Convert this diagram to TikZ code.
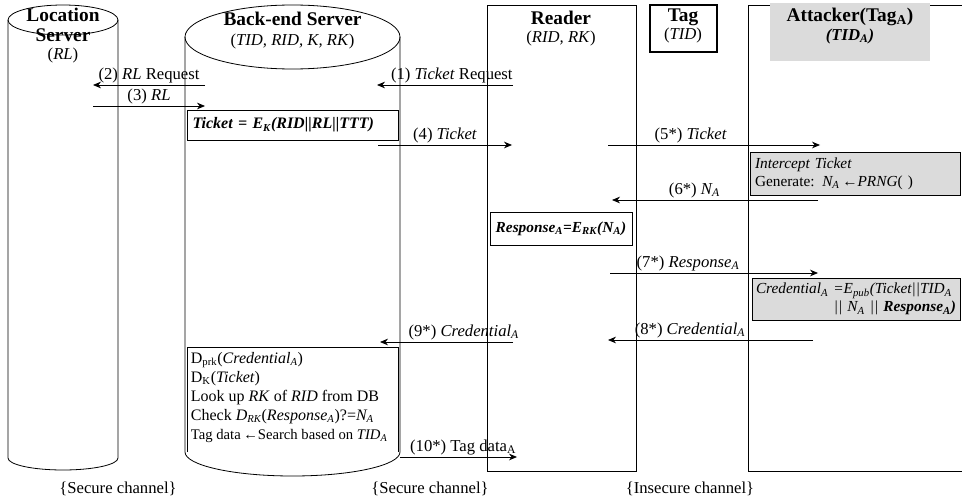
\documentclass[tikz,border=0pt]{standalone}
\usepackage{fontspec}
\setmainfont{Liberation Serif}
\usetikzlibrary{arrows.meta, positioning}
\newcommand{\low}[1]{\textsubscript{#1}}

\begin{document}
\begin{tikzpicture}[x=0.75pt, y=-0.75pt, >={Stealth[length=6pt, width=5pt]},
    wire/.style={line width=0.6pt},
    msg/.style={wire, ->},
    lbl/.style={above, inner sep=1.5pt, font=\fontsize{12.5}{14}\selectfont},
    head/.style={inner sep=0pt, font=\fontsize{14.5}{16}\selectfont\bfseries},
    keys/.style={inner sep=0pt, font=\fontsize{12.5}{14}\selectfont},
    box/.style={draw, wire, inner sep=3pt, font=\fontsize{11.5}{13.5}\selectfont},
    greybox/.style={box, fill=black!14}]
  \useasboundingbox (0,0) rectangle (962,499);

  % Location server (cylinder)
  \draw[wire] (8,20) -- (8,458) arc[start angle=180, end angle=0, x radius=55, y radius=12] -- (118,20);
  \draw[wire] (63,20) ellipse[x radius=55, y radius=15];
  \node[head] (loc) at (63,15) {Location};
  \node[head] (locb) at (63,35) {Server};
  \node[keys] (lockey) at (63,55) {(\textit{RL})};

  % Back-end server (cylinder)
  \draw[wire] (185,37) -- (185,452) arc[start angle=180, end angle=0, x radius=107.5, y radius=24] -- (400,37);
  \draw[wire] (292.5,37) ellipse[x radius=107.5, y radius=32];
  \node[head] (srv) at (292.5,19) {Back-end Server};
  \node[keys] (srvkey) at (292.5,41) {(\textit{TID, RID, K, RK})};

  % Reader, tag and attacker
  \draw[wire] (487,5) rectangle (636,471);
  \node[head] (rdr) at (561,18) {Reader};
  \node[keys] (rdrkey) at (561,38) {(\textit{RID, RK})};

  \draw[line width=2pt] (650,5) rectangle (717,52);
  \node[head] (tag) at (683,17) {Tag};
  \node[keys] (tagkey) at (683,35) {(\textit{TID})};

  \draw[wire] (962,5) -- (748,5) -- (748,471) -- (962,471);
  \node[fill=black!14, minimum width=120pt, minimum height=43pt] (atkbg) at (850,32) {};
  \node[head] (atk) at (850,17) {Attacker(Tag\low{A})};
  \node[keys, font=\fontsize{12.5}{14}\selectfont\bfseries\itshape] (atkkey) at (850,36) {(TID\low{A})};

  % Steps (1)-(4)
  \coordinate (r1) at (513,85);   \coordinate (s1) at (377,85);
  \draw[msg] (r1) -- node[lbl, pos=0.45] {(1) \textit{Ticket} Request} (s1);
  \coordinate (s2) at (205,85);   \coordinate (l2) at (93,85);
  \draw[msg] (s2) -- node[lbl] {(2) \textit{RL} Request} (l2);
  \coordinate (l3) at (93,106);   \coordinate (s3) at (205,106);
  \draw[msg] (l3) -- node[lbl] {(3) \textit{RL}} (s3);

  \node[box, minimum width=158.25pt, minimum height=22.5pt, text width=150pt,
    font=\fontsize{12}{14}\selectfont]
    (tkt) at (292.5,125) {\bfseries\itshape Ticket = E\low{K}(RID||RL||TTT)};

  \coordinate (s4) at (378,145);  \coordinate (r4) at (512,145);
  \draw[msg] (s4) -- node[lbl] {(4) \textit{Ticket}} (r4);

  % Attack on the insecure channel
  \coordinate (r5) at (608,145);  \coordinate (a5) at (820,145);
  \draw[msg] (r5) -- node[lbl, pos=0.39] {(5*) \textit{Ticket}} (a5);
  \node[greybox, minimum width=157.5pt, minimum height=32.25pt, text width=150pt, align=left]
    (icpt) at (855,173.5) {\textit{Intercept Ticket}\\Generate: \textit{N\low{A}}\,←\textit{PRNG}( )};

  \coordinate (a6) at (818,200);  \coordinate (r6) at (612,200);
  \draw[msg] (a6) -- node[lbl, pos=0.6] {(6*) \textit{N\low{A}}} (r6);
  \node[box, minimum width=106.5pt, minimum height=24.75pt]
    (resp) at (561,228.5) {\bfseries\itshape Response\low{A}=E\low{RK}(N\low{A})};

  \coordinate (r7) at (610,273);  \coordinate (a7) at (818,273);
  \draw[msg] (r7) -- node[lbl, pos=0.375] {(7*) \textit{Response\low{A}}} (a7);
  \node[greybox, minimum width=156pt, minimum height=31.5pt, text width=150pt, align=left]
    (cred) at (856,299) {\itshape Credential\low{A} =E\low{pub}(Ticket||TID\low{A}\\
      \hfill || N\low{A} || \bfseries Response\low{A})};

  \coordinate (a8) at (813,340);  \coordinate (r8) at (608,340);
  \draw[msg] (a8) -- node[lbl, pos=0.6] {(8*) \textit{Credential\low{A}}} (r8);
  \coordinate (r9) at (513,342);  \coordinate (s9) at (380,342);
  \draw[msg] (r9) -- node[lbl, pos=0.37] {(9*) \textit{Credential\low{A}}} (s9);

  % Checks at the back-end server
  \draw[wire] (187,452) -- (187,347) -- (398,347) -- (398,452);
  \node[anchor=north west, align=left, inner sep=2pt, font=\fontsize{12}{14.25}\selectfont]
    (chk) at (188,349) {D\low{prk}(\textit{Credential\low{A}})\\
      D\low{K}(\textit{Ticket})\\
      Look up \textit{RK} of \textit{RID} from DB\\
      Check \textit{D\low{RK}}(\textit{Response\low{A}})?=\textit{N\low{A}}\\
      {\fontsize{11}{14.25}\selectfont Tag data\,←Search based on \textit{TID\low{A}}}};

  \coordinate (s10) at (400,457); \coordinate (r10) at (517,457);
  \draw[msg] (s10) -- node[lbl, pos=0.54] {(10*) Tag data\low{A}} (r10);

  % Channels
  \node[keys] (ch1) at (118,489) {\{Secure channel\}};
  \node[keys] (ch2) at (430,489) {\{Secure channel\}};
  \node[keys] (ch3) at (690,489) {\{Insecure channel\}};
\end{tikzpicture}
\end{document}
